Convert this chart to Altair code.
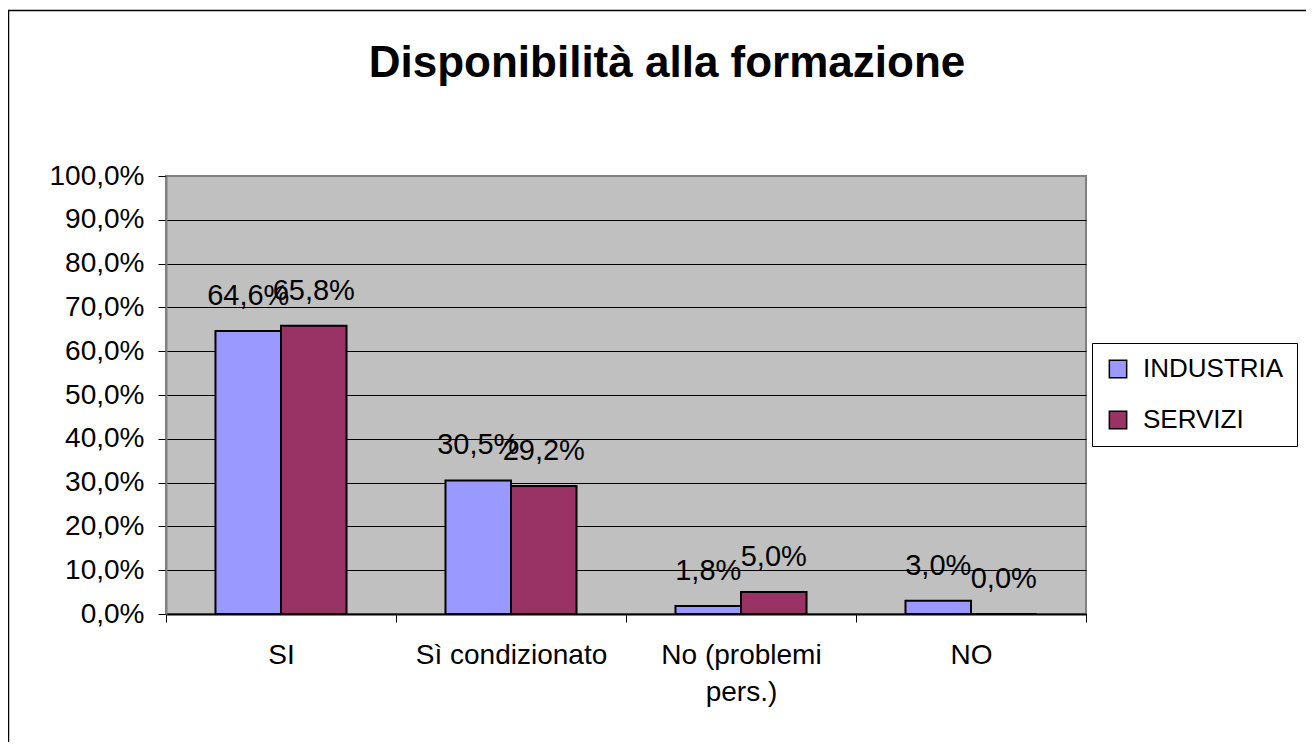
import altair as alt
import pandas as pd

categories = ["SI", "Sì condizionato", "No (problemi pers.)", "NO"]
series = ["INDUSTRIA", "SERVIZI"]
industria = [0.646, 0.305, 0.018, 0.030]
servizi = [0.658, 0.292, 0.050, 0.0]
y_ticks = [0, 0.1, 0.2, 0.3, 0.4, 0.5, 0.6, 0.7, 0.8, 0.9, 1.0]
colors = ["#9999FF", "#993366"]
title_text = "Disponibilità alla formazione"

rows = []
for c, a, b in zip(categories, industria, servizi):
    rows.append({"cat": c, "serie": series[0], "value": a})
    rows.append({"cat": c, "serie": series[1], "value": b})
df = pd.DataFrame(rows)

FONT = "Liberation Sans"

x_enc = alt.X(
    "cat:N",
    sort=categories,
    scale=alt.Scale(paddingInner=0, paddingOuter=0),
    axis=alt.Axis(
        title=None,
        labelAngle=0,
        labelFont=FONT,
        labelFontSize=28,
        labelColor="black",
        labelPadding=19,
        labelLineHeight=37,
        labelBaseline="top",
        labelLimit=0,
        labelExpr="datum.label == 'No (problemi pers.)' ? ['No (problemi', 'pers.)'] : datum.label",
        tickBand="extent",
        tickColor="black",
        tickSize=8,
        tickWidth=1,
        domainColor="black",
        domainWidth=2,
        grid=False,
    ),
)
xoff = alt.XOffset(
    "serie:N",
    sort=series,
    scale=alt.Scale(paddingOuter=0.755, paddingInner=0),
)
y_enc = alt.Y(
    "value:Q",
    scale=alt.Scale(domain=[0, 1], nice=False),
    axis=alt.Axis(
        title=None,
        values=y_ticks,
        labelExpr="replace(format(datum.value, '.1%'), '.', ',')",
        labelFont=FONT,
        labelFontSize=28,
        labelColor="black",
        labelPadding=14,
        tickColor="black",
        tickSize=8,
        tickWidth=1,
        domainColor="#808080",
        domainWidth=2,
        grid=True,
        gridColor=alt.condition("datum.value >= 1", alt.value("#808080"), alt.value("black")),
        gridWidth=1,
        gridOpacity=1,
    ),
)

bars = alt.Chart(df).mark_bar(stroke="black", strokeWidth=2).encode(
    x=x_enc,
    xOffset=xoff,
    y=y_enc,
    color=alt.Color(
        "serie:N",
        sort=series,
        scale=alt.Scale(domain=series, range=colors),
        legend=alt.Legend(
            title=None,
            orient="none",
            legendX=926,
            legendY=167,
            direction="vertical",
            symbolType="square",
            symbolSize=300,
            symbolStrokeColor="black",
            symbolStrokeWidth=1.5,
            symbolOpacity=1,
            labelFont=FONT,
            labelFontSize=26,
            labelColor="black",
            labelOffset=12,
            rowPadding=25,
            padding=13,
            strokeColor="black",
            fillColor="white",
        ),
    ),
)

labels = alt.Chart(df).transform_calculate(
    txt="replace(format(datum.value, '.1%'), '.', ',')"
).mark_text(
    font=FONT, fontSize=29, color="black", baseline="alphabetic", align="center", dy=-26
).encode(
    x=alt.X("cat:N", sort=categories),
    xOffset=alt.XOffset("serie:N", sort=series),
    y="value:Q",
    text="txt:N",
)

title_df = pd.DataFrame({"t": [title_text]})
title = alt.Chart(title_df).mark_text(
    font=FONT, fontSize=44, fontWeight="bold", color="black",
    align="center", baseline="alphabetic", clip=False,
).encode(
    x=alt.value(501),
    y=alt.value(-99),
    text="t:N",
)

frame = alt.Chart(pd.DataFrame({"k": [0]})).mark_rect(
    filled=False, stroke="black", strokeWidth=1.5, clip=False
).encode(
    x=alt.value(-157.5),
    x2=alt.value(1300),
    y=alt.value(-165.5),
    y2=alt.value(800),
)

chart = alt.layer(frame, title, bars, labels).properties(
    width=920,
    height=438,
    background="white",
    padding={"left": 158, "top": 168, "right": 220, "bottom": 128},
    autosize=alt.AutoSizeParams(type="none"),
).configure_view(
    fill="#C0C0C0", stroke="#808080", strokeWidth=2
)

chart.save("out.html", embed_options={"renderer": "svg", "actions": False})
